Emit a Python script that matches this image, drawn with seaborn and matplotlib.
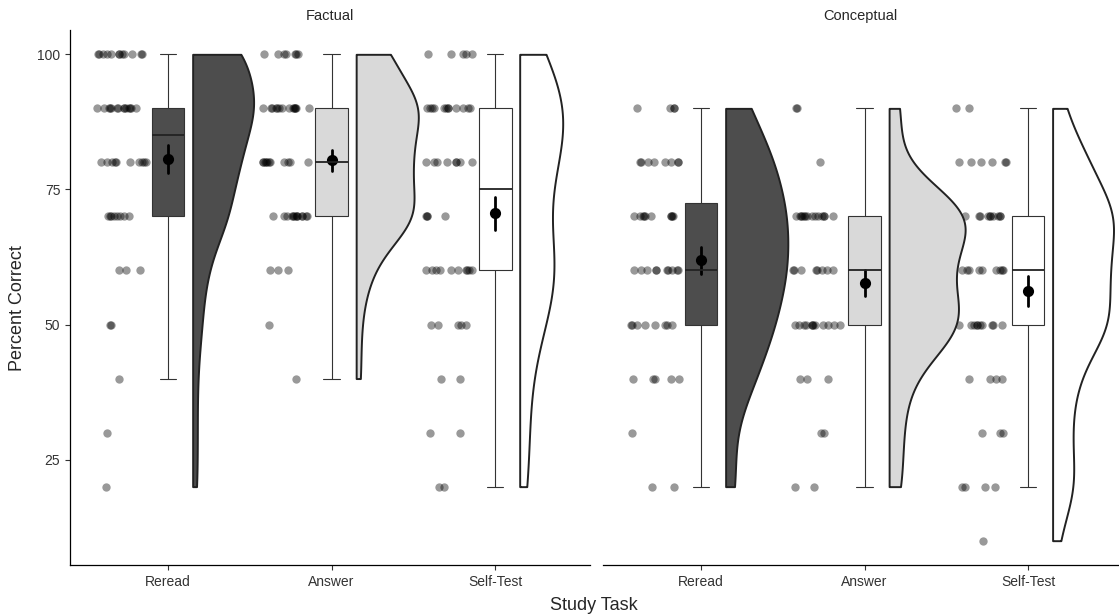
import numpy as np
import pandas as pd
import matplotlib.pyplot as plt
import seaborn as sns

sns.set_theme(style="ticks")
plt.rcParams["font.family"] = ["Liberation Sans", "DejaVu Sans"]

tasks = ["Reread", "Answer", "Self-Test"]
panels = ["Factual", "Conceptual"]
score_levels = [100, 90, 80, 70, 60, 50, 40, 30, 20, 10]

# number of students at each score level (100 down to 10)
factual_reread = [12, 14, 10, 8, 3, 2, 1, 1, 1, 0]
factual_answer = [7, 14, 11, 13, 3, 1, 1, 0, 0, 0]
factual_selftest = [5, 12, 8, 4, 10, 5, 2, 2, 2, 0]
conceptual_reread = [0, 4, 8, 10, 10, 8, 5, 1, 2, 0]
conceptual_answer = [0, 2, 1, 14, 8, 12, 3, 2, 2, 0]
conceptual_selftest = [0, 2, 6, 11, 9, 10, 4, 3, 4, 1]

fills = {"Reread": "#4d4d4d", "Answer": "#d9d9d9", "Self-Test": "#ffffff"}
# widest half-violin in each panel, in category units
violin_max_width = {"Factual": 0.38, "Conceptual": 0.465}

counts = {
    ("Factual", "Reread"): factual_reread,
    ("Factual", "Answer"): factual_answer,
    ("Factual", "Self-Test"): factual_selftest,
    ("Conceptual", "Reread"): conceptual_reread,
    ("Conceptual", "Answer"): conceptual_answer,
    ("Conceptual", "Self-Test"): conceptual_selftest,
}

frames = []
for (panel, task), c in counts.items():
    frames.append(pd.DataFrame({"panel": panel, "task": task,
                                "score": np.repeat(score_levels, c).astype(float)}))
df = pd.concat(frames, ignore_index=True)
df["pos"] = df["task"].map({t: i for i, t in enumerate(tasks)}).astype(float)
df["strip_pos"] = df["pos"] - 0.285


def kde_half(values):
    # gaussian density, bandwidth like R's nrd0, trimmed to the data range
    v = np.asarray(values, dtype=float)
    n = len(v)
    iqr = np.subtract(*np.percentile(v, [75, 25]))
    bw = 0.9 * min(v.std(ddof=1), iqr / 1.34) * n ** -0.2
    grid = np.linspace(v.min(), v.max(), 512)
    dens = np.exp(-0.5 * ((grid[:, None] - v[None, :]) / bw) ** 2).sum(axis=1)
    dens = dens / (n * bw * np.sqrt(2 * np.pi))
    return grid, dens


dens_all = {}
for (panel, task), c in counts.items():
    sub = df[(df.panel == panel) & (df.task == task)]
    dens_all[(panel, task)] = kde_half(sub["score"])

np.random.seed(3)
fig = plt.figure(figsize=(11.19, 6.16), dpi=100)
ax_l = fig.add_axes([70 / 1119, 51 / 616, 520 / 1119, 535 / 616])
ax_r = fig.add_axes([603 / 1119, 51 / 616, 515 / 1119, 535 / 616], sharey=ax_l)

for ax, panel in zip([ax_l, ax_r], panels):
    sub = df[df.panel == panel]

    sns.stripplot(data=sub, x="strip_pos", y="score", native_scale=True, orient="x",
                  jitter=0.155, color="black", alpha=0.4, size=6, linewidth=0,
                  ax=ax, zorder=1)

    sns.boxplot(data=sub, x="pos", y="score", hue="task", hue_order=tasks,
                palette=fills, native_scale=True, orient="x", dodge=False,
                width=0.2, showfliers=False, saturation=1, linewidth=0.8,
                linecolor="#333333", legend=False, ax=ax,
                medianprops={"linewidth": 1.3, "color": "#222222"})

    panel_max = max(dens_all[(panel, t)][1].max() for t in tasks)
    for task in tasks:
        grid, dens = dens_all[(panel, task)]
        x0 = tasks.index(task) + 0.15
        ax.fill_betweenx(grid, x0, x0 + dens / panel_max * violin_max_width[panel],
                         facecolor=fills[task], edgecolor="#222222", linewidth=1.4,
                         zorder=2)

    sns.pointplot(data=sub, x="pos", y="score", native_scale=True, orient="x",
                  errorbar="se", color="black", linestyle="none", markersize=6,
                  err_kws={"linewidth": 2.0}, ax=ax)

    ax.set_title(panel, fontsize=10.5, pad=7)
    ax.set_xlabel("")
    ax.set_ylabel("")
    ax.set_xticks(range(len(tasks)))
    ax.set_xticklabels(tasks)
    ax.set_ylim(5.5, 104.5)
    ax.set_yticks([25, 50, 75, 100])
    ax.tick_params(labelsize=10, labelcolor="#333333", length=3.5, width=0.8,
                   color="#333333")
    sns.despine(ax=ax)
    for s in ["left", "bottom"]:
        ax.spines[s].set_linewidth(0.9)
        ax.spines[s].set_color("black")

ax_l.set_xlim(-0.6, 2.58)
ax_r.set_xlim(-0.6, 2.55)
ax_r.spines["left"].set_visible(False)
ax_r.tick_params(axis="y", left=False, labelleft=False)

fig.text(18 / 1119, 0.5, "Percent Correct", rotation=90,
         va="center", ha="center", fontsize=13)
fig.text(594 / 1119, 11 / 616, "Study Task", ha="center", va="center", fontsize=13)

fig.savefig("out.png", dpi=100)
